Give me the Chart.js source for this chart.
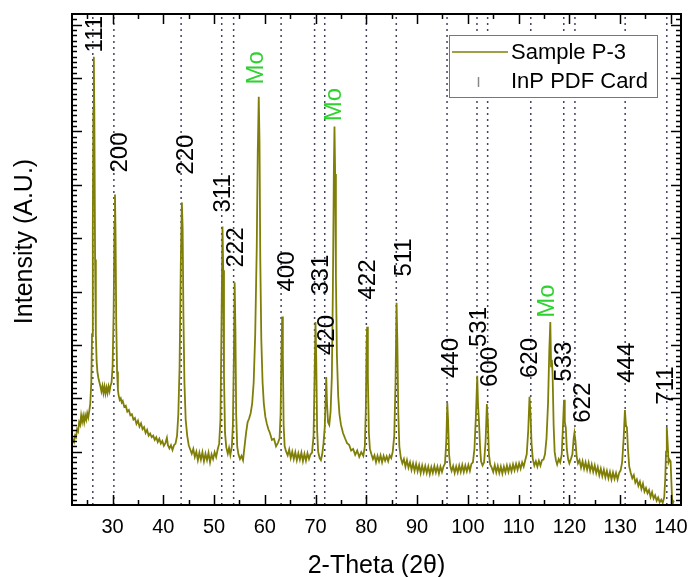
<!DOCTYPE html>
<html>
<head>
<meta charset="utf-8">
<title>Sample P-3 XRD pattern</title>
<script src="https://cdn.jsdelivr.net/npm/chart.js@4.4.1/dist/chart.umd.min.js"></script>
<style>
  html, body { margin: 0; padding: 0; background: #fff; }
  #wrap { width: 690px; height: 577px; }
</style>
</head>
<body>
<div id="wrap"><canvas id="xrdChart"></canvas></div>
<script>
// measured pattern, [2-theta, intensity (a.u.)]
const sampleP3 = [
  [22.0,1.15],[22.2,1.22],[22.4,1.18],[22.6,1.3],[22.8,1.27],[23.0,1.42],[23.2,1.38],[23.4,1.55],[23.6,1.5],[23.8,1.68],
  [24.0,1.56],[24.2,1.67],[24.4,1.55],[24.6,1.68],[24.8,1.6],[25.0,1.72],[25.2,1.64],[25.4,1.76],[25.6,1.9],[25.8,2.3],
  [25.95,3.2],[26.1,5.2],[26.22,7.4],[26.3,8.4],[26.4,7.4],[26.55,4.6],[26.7,3.2],[26.85,2.7],[27.0,2.5],[27.2,2.38],
  [27.4,2.3],[27.6,2.22],[27.8,2.13],[28.0,2.23],[28.2,2.1],[28.4,2.22],[28.6,2.09],[28.8,2.2],[29.0,2.1],[29.2,2.22],
  [29.4,2.13],[29.6,2.24],[29.8,2.3],[30.0,2.6],[30.2,3.6],[30.38,5.3],[30.47,5.82],[30.58,5.1],[30.72,3.4],[30.88,2.5],
  [31.05,2.15],[31.2,2.05],[31.4,1.97],[31.6,2.0],[31.8,1.92],[32.0,1.95],[32.3,1.84],[32.6,1.86],[32.9,1.75],[33.2,1.78],
  [33.5,1.68],[33.8,1.7],[34.1,1.6],[34.4,1.63],[34.7,1.52],[35.0,1.58],[35.3,1.47],[35.6,1.53],[35.9,1.42],[36.2,1.46],
  [36.5,1.35],[36.8,1.41],[37.1,1.3],[37.4,1.34],[37.7,1.27],[38.0,1.3],[38.3,1.22],[38.6,1.27],[38.9,1.18],[39.2,1.24],
  [39.5,1.15],[39.8,1.2],[40.1,1.11],[40.4,1.16],[40.7,1.26],[40.9,1.12],[41.2,1.06],[41.5,1.12],[41.8,1.03],[42.1,1.12],
  [42.4,1.15],[42.7,1.3],[42.95,1.7],[43.2,2.6],[43.45,4.6],[43.65,5.67],[43.8,5.2],[43.95,3.6],[44.15,2.3],[44.4,1.6],
  [44.7,1.3],[45.0,1.12],[45.3,1.04],[45.6,0.96],[45.9,1.05],[46.2,0.9],[46.5,1.0],[46.8,0.84],[47.1,0.98],[47.4,0.85],
  [47.7,0.99],[48.0,0.82],[48.3,0.96],[48.6,0.84],[48.9,0.98],[49.2,0.8],[49.5,0.95],[49.8,0.86],[50.1,0.99],[50.4,0.9],
  [50.7,1.04],[51.0,1.15],[51.25,1.6],[51.45,3.3],[51.65,5.22],[51.8,4.4],[51.95,2.4],[52.15,1.35],[52.4,1.08],[52.7,0.96],
  [52.95,1.07],[53.2,0.94],[53.5,1.1],[53.7,1.5],[53.9,2.8],[54.05,4.17],[54.2,3.3],[54.35,1.7],[54.55,1.1],[54.8,0.95],
  [55.1,0.86],[55.4,0.92],[55.7,0.84],[56.0,1.1],[56.3,1.35],[56.6,1.55],[56.9,1.62],[57.2,1.72],[57.5,1.9],[57.8,2.3],
  [58.1,3.2],[58.4,4.8],[58.6,6.6],[58.8,7.65],[58.95,6.8],[59.1,4.6],[59.3,3.1],[59.55,2.3],[59.8,1.9],[60.1,1.65],
  [60.4,1.52],[60.7,1.42],[61.0,1.35],[61.4,1.22],[61.8,1.24],[62.2,1.1],[62.6,1.17],[62.9,1.25],[63.1,1.7],[63.3,3.0],
  [63.42,3.53],[63.55,2.8],[63.7,1.5],[63.9,1.1],[64.2,1.0],[64.5,0.93],[64.8,1.04],[65.1,0.88],[65.4,1.0],[65.7,0.86],
  [66.0,0.99],[66.3,0.84],[66.6,0.97],[66.9,0.85],[67.2,0.98],[67.5,0.82],[67.8,0.96],[68.1,0.83],[68.4,0.97],[68.7,0.86],
  [69.0,0.95],[69.3,0.98],[69.6,1.3],[69.8,2.4],[69.98,3.43],[70.12,2.8],[70.3,1.4],[70.5,1.0],[70.8,0.88],[71.05,0.84],
  [71.3,0.95],[71.55,1.15],[71.8,1.45],[71.95,1.9],[72.1,2.4],[72.25,1.9],[72.45,1.55],[72.7,1.5],[72.95,1.75],[73.2,2.4],
  [73.4,4.0],[73.6,6.3],[73.72,7.09],[73.85,6.2],[74.0,4.3],[74.2,2.8],[74.45,2.05],[74.7,1.7],[75.0,1.5],[75.4,1.35],
  [75.8,1.25],[76.2,1.16],[76.6,1.13],[77.0,1.02],[77.4,1.05],[77.8,0.94],[78.2,1.02],[78.6,0.9],[79.0,0.99],[79.4,0.92],
  [79.7,1.1],[79.9,1.8],[80.05,3.0],[80.15,3.34],[80.3,2.4],[80.5,1.35],[80.7,1.05],[81.0,0.95],[81.3,0.86],[81.6,0.93],
  [81.9,0.8],[82.2,0.92],[82.5,0.82],[82.8,0.93],[83.1,0.8],[83.4,0.92],[83.7,0.83],[84.0,0.91],[84.3,0.82],[84.6,0.93],
  [84.9,0.88],[85.2,1.0],[85.5,1.3],[85.75,2.3],[85.95,3.79],[86.1,3.1],[86.3,1.7],[86.5,1.1],[86.8,0.88],[87.1,0.78],
  [87.4,0.86],[87.7,0.72],[88.0,0.84],[88.3,0.7],[88.6,0.8],[88.9,0.66],[89.2,0.78],[89.5,0.64],[89.8,0.77],[90.1,0.63],
  [90.4,0.75],[90.7,0.6],[91.0,0.74],[91.3,0.61],[91.6,0.73],[91.9,0.6],[92.2,0.72],[92.5,0.58],[92.8,0.71],[93.1,0.6],
  [93.4,0.73],[93.7,0.61],[94.0,0.72],[94.3,0.59],[94.6,0.72],[94.9,0.62],[95.2,0.72],[95.5,0.78],[95.75,1.2],[95.95,1.91],
  [96.1,1.6],[96.3,0.95],[96.55,0.72],[96.8,0.64],[97.1,0.73],[97.4,0.6],[97.7,0.72],[98.0,0.61],[98.3,0.74],[98.6,0.62],
  [98.9,0.75],[99.2,0.62],[99.5,0.74],[99.8,0.63],[100.1,0.75],[100.4,0.64],[100.7,0.77],[101.0,0.8],[101.3,1.05],[101.6,1.7],
  [101.85,2.42],[102.0,1.9],[102.2,1.55],[102.4,1.1],[102.6,0.82],[102.9,0.74],[103.2,0.8],[103.5,1.2],[103.75,1.89],[103.95,1.55],
  [104.15,0.95],[104.4,0.76],[104.7,0.7],[105.0,0.62],[105.3,0.75],[105.6,0.61],[105.9,0.73],[106.2,0.6],[106.5,0.72],[106.8,0.59],
  [107.1,0.72],[107.4,0.61],[107.7,0.74],[108.0,0.62],[108.3,0.74],[108.6,0.63],[108.9,0.76],[109.2,0.65],[109.5,0.77],[109.8,0.66],
  [110.1,0.78],[110.4,0.68],[110.7,0.8],[111.0,0.72],[111.3,0.84],[111.6,0.95],[111.9,1.4],[112.15,2.03],[112.35,1.7],[112.55,1.15],
  [112.8,0.86],[113.1,0.74],[113.4,0.82],[113.7,0.72],[114.0,0.83],[114.3,0.74],[114.6,0.84],[114.9,0.85],[115.2,0.95],[115.5,1.25],
  [115.8,1.9],[116.05,2.9],[116.25,3.43],[116.4,2.6],[116.55,2.72],[116.7,2.45],[116.9,1.5],[117.1,1.0],[117.35,0.84],[117.6,0.76],
  [117.9,0.86],[118.2,0.8],[118.5,0.95],[118.75,1.5],[118.95,1.97],[119.1,1.55],[119.3,1.45],[119.5,1.05],[119.75,0.86],[120.0,0.78],
  [120.3,0.86],[120.6,0.95],[120.85,1.25],[121.0,1.35],[121.2,1.2],[121.45,0.9],[121.7,0.78],[122.0,0.84],[122.3,0.7],[122.6,0.82],
  [122.9,0.68],[123.2,0.8],[123.5,0.66],[123.8,0.79],[124.1,0.64],[124.4,0.76],[124.7,0.62],[125.0,0.74],[125.3,0.6],[125.6,0.71],
  [125.9,0.56],[126.2,0.68],[126.5,0.54],[126.8,0.66],[127.1,0.52],[127.4,0.64],[127.7,0.5],[128.0,0.62],[128.3,0.48],[128.6,0.61],
  [128.9,0.49],[129.2,0.6],[129.5,0.48],[129.8,0.6],[130.1,0.65],[130.4,0.8],[130.7,1.25],[130.95,1.78],[131.15,1.5],[131.35,1.45],
  [131.55,1.05],[131.8,0.72],[132.1,0.6],[132.4,0.5],[132.7,0.56],[133.0,0.42],[133.3,0.48],[133.6,0.36],[133.9,0.44],[134.2,0.3],
  [134.5,0.4],[134.8,0.25],[135.1,0.32],[135.4,0.22],[135.7,0.28],[136.0,0.15],[136.3,0.24],[136.6,0.12],[136.9,0.18],[137.2,0.08],
  [137.5,0.14],[137.8,0.05],[138.1,0.1],[138.4,0.04],[138.7,0.15],[138.9,0.5],[139.05,1.0],[139.2,1.46],[139.35,1.2],[139.55,0.8],
  [139.75,0.85],[139.95,0.82],[140.1,0.45],[140.25,0.1],[140.4,0.04],[140.6,0.08]
];

// InP reference reflections (2-theta)
const pdfCard = [26.1, 30.25, 43.5, 51.5, 53.85, 63.2, 69.8, 71.8, 80.0, 85.9, 95.9, 101.8, 103.9, 112.4, 118.9, 121.1, 131.0, 139.2];

// peak annotations: text, 2-theta, intensity where the text starts
const peakLabels = ['111','200','220','311','222','Mo','Mo','400','331','420','422','511','440','531','600','620','Mo','533','622','444','711'];
const labelTheta = [26.4, 31.3, 44.3, 51.6, 54.2, 58.2, 73.6, 64.2, 70.9, 72.1, 80.3, 87.2, 96.6, 102.0, 104.2, 112.2, 115.5, 118.9, 122.6, 131.3, 138.9];
const labelLevel = [8.48, 6.23, 6.19, 5.48, 4.45, 7.88, 7.19, 4.0, 3.94, 2.81, 3.85, 4.28, 2.38, 2.96, 2.21, 2.38, 3.51, 2.31, 1.54, 2.29, 1.88];

const xTickValues = [30, 40, 50, 60, 70, 80, 90, 100, 110, 120, 130, 140];
const X_MIN = 22, X_MAX = 142;
const Y_MIN = 0, Y_MAX = 9.2;

const FONT = '"Liberation Sans", Arial, Helvetica, sans-serif';
const CURVE = '#7f7f08';
const MO_GREEN = '#2fd12f';

// stick lines for the card: one vertical segment per reflection, broken by nulls
const pdfLines = [];
pdfCard.forEach(p => {
    pdfLines.push({x: p, y: Y_MIN}, {x: p, y: Y_MAX}, {x: p, y: null});
});

// frame with inward ticks on all four sides
const frameTicks = {
    id: 'frameTicks',
    afterDatasetsDraw(chart) {
        const {ctx, chartArea: a, scales: {x, y}} = chart;
        ctx.save();
        ctx.strokeStyle = '#000';
        ctx.lineWidth = 1.5;
        ctx.beginPath();
        xTickValues.forEach(v => {
            const px = Math.round(x.getPixelForValue(v)) + 0.5;
            ctx.moveTo(px, a.bottom); ctx.lineTo(px, a.bottom - 10);
            ctx.moveTo(px, a.top); ctx.lineTo(px, a.top + 10);
            const m = v - 5;
            if (m > X_MIN) {
                const pm = Math.round(x.getPixelForValue(m)) + 0.5;
                ctx.moveTo(pm, a.bottom); ctx.lineTo(pm, a.bottom - 5);
                ctx.moveTo(pm, a.top); ctx.lineTo(pm, a.top + 5);
            }
        });
        for (let i = 1; i < Y_MAX * 10; i++) {
            const py = Math.round(y.getPixelForValue(i / 10)) + 0.5;
            const len = i % 10 === 0 ? 10 : 5;
            ctx.moveTo(a.left, py); ctx.lineTo(a.left + len, py);
            ctx.moveTo(a.right, py); ctx.lineTo(a.right - len, py);
        }
        ctx.stroke();
        ctx.lineWidth = 2;
        ctx.strokeRect(a.left, a.top, a.right - a.left, a.bottom - a.top);
        ctx.restore();
    }
};

// rotated hkl / Mo labels
const peakText = {
    id: 'peakText',
    afterDatasetsDraw(chart) {
        const {ctx, scales: {x, y}} = chart;
        ctx.save();
        ctx.font = '24px ' + FONT;
        ctx.textAlign = 'left';
        ctx.textBaseline = 'middle';
        peakLabels.forEach((t, i) => {
            ctx.save();
            ctx.translate(x.getPixelForValue(labelTheta[i]), y.getPixelForValue(labelLevel[i]));
            ctx.rotate(-Math.PI / 2);
            ctx.fillStyle = t === 'Mo' ? MO_GREEN : '#000';
            ctx.fillText(t, 0, 1);
            ctx.restore();
        });
        ctx.restore();
    }
};

// boxed legend in the upper right corner and the y title
const boxLegend = {
    id: 'boxLegend',
    afterDraw(chart) {
        const {ctx, chartArea: a} = chart;
        const bx = a.right - 232, by = a.top + 21, bw = 208, bh = 62;
        ctx.save();
        ctx.fillStyle = '#fff';
        ctx.fillRect(bx, by, bw, bh);
        ctx.strokeStyle = '#777';
        ctx.lineWidth = 1;
        ctx.strokeRect(bx + 0.5, by + 0.5, bw, bh);

        ctx.strokeStyle = CURVE;
        ctx.lineWidth = 1.5;
        ctx.beginPath();
        ctx.moveTo(bx + 3, by + 17); ctx.lineTo(bx + 59, by + 17);
        ctx.stroke();
        ctx.strokeStyle = '#888';
        ctx.beginPath();
        ctx.moveTo(bx + 29.5, by + 42); ctx.lineTo(bx + 29.5, by + 52);
        ctx.stroke();

        ctx.fillStyle = '#000';
        ctx.font = '22px ' + FONT;
        ctx.textBaseline = 'middle';
        ctx.fillText('Sample P-3', bx + 62, by + 18);
        ctx.fillText('InP PDF Card', bx + 62, by + 47);

        ctx.font = '25px ' + FONT;
        ctx.textAlign = 'center';
        ctx.translate(25, (a.top + a.bottom) / 2 - 18);
        ctx.rotate(-Math.PI / 2);
        ctx.fillText('Intensity (A.U.)', 0, 0);
        ctx.restore();
    }
};

new Chart(document.getElementById('xrdChart'), {
    type: 'line',
    data: {
        datasets: [
            {
                label: 'Sample P-3',
                data: sampleP3.map(([t, v]) => ({x: t, y: v})),
                borderColor: CURVE,
                borderWidth: 1.8,
                pointRadius: 0,
                tension: 0
            },
            {
                label: 'InP PDF Card',
                data: pdfLines,
                borderColor: 'rgba(45,45,80,0.9)',
                borderWidth: 1.5,
                borderDash: [2, 4],
                pointRadius: 0,
                spanGaps: false
            }
        ]
    },
    options: {
        responsive: true,
        maintainAspectRatio: false,
        animation: false,
        layout: { padding: { top: 14, right: 9 } },
        scales: {
            x: {
                type: 'linear',
                min: X_MIN,
                max: X_MAX,
                afterBuildTicks: s => { s.ticks = xTickValues.map(v => ({value: v})); },
                afterFit: s => { s.height = 72; },
                grid: { display: false, drawTicks: true, tickLength: 8, tickColor: 'rgba(0,0,0,0)' },
                border: { display: false },
                ticks: { color: '#000', padding: 2, font: { family: FONT, size: 20 } },
                title: {
                    display: true,
                    text: '2-Theta (2\u03B8)',
                    color: '#000',
                    font: { family: FONT, size: 25 },
                    padding: { top: 0, bottom: -4 }
                }
            },
            y: {
                type: 'linear',
                min: Y_MIN,
                max: Y_MAX,
                afterFit: s => { s.width = 72; },
                grid: { display: false, drawTicks: false },
                border: { display: false },
                ticks: { display: false }
            }
        },
        plugins: {
            legend: { display: false },
            tooltip: { enabled: false }
        }
    },
    plugins: [frameTicks, peakText, boxLegend]
});
</script>
</body>
</html>
